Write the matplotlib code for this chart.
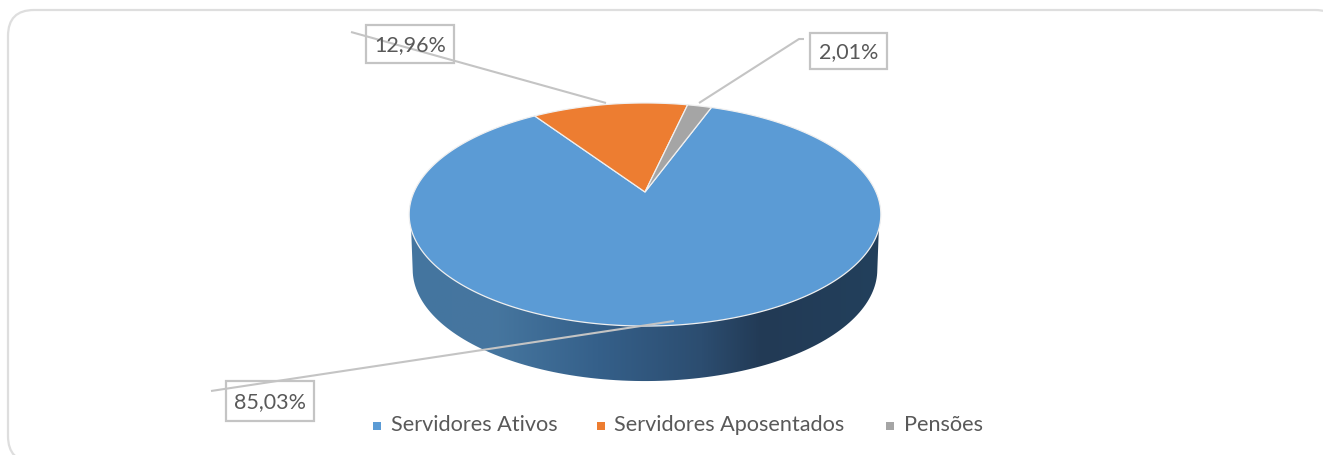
"""3D-looking pie of servidores ativos / aposentados / pensoes."""
import numpy as np
import matplotlib
matplotlib.use('Agg')
import matplotlib.pyplot as plt
from matplotlib.colors import LinearSegmentedColormap
from matplotlib.patches import FancyBboxPatch, Polygon, Rectangle

categories = ['Servidores Ativos', 'Servidores Aposentados', 'Pensões']
shares = [85.03, 12.96, 2.01]
share_labels = ['85,03%', '12,96%', '2,01%']
colors = ['#5b9bd5', '#ed7d31', '#a5a5a5']

plt.rcParams['font.family'] = ['Lato', 'DejaVu Sans']
TEXT = '#595959'
LINE = '#c4c4c4'

W, H = 1323, 455
CX, APEX_Y = 645, 192
A, B, K = 231.0, 107.0, 0.2018  # perspective of the tilted disc
START = 20.0  # first slice starts this many degrees clockwise from the top
DEPTH = 55


def project(theta):
    # theta in degrees, clockwise from the top of the disc
    t = np.radians(theta)
    u, v = np.sin(t), np.cos(t)
    d = 1 + K * v
    return CX + A * u / d, APEX_Y - B * v / d


fig = plt.figure(figsize=(W / 100, H / 100), dpi=100)
ax = fig.add_axes([0, 0, 1, 1])
ax.set_xlim(0, W)
ax.set_ylim(H, 0)
ax.axis('off')

# card outline, runs off the right and bottom of the picture
ax.add_patch(FancyBboxPatch((8, 10), 1333, 452, boxstyle='round,pad=0,rounding_size=26',
                            fc='white', ec='#dedede', lw=1.6, zorder=0))

# side wall: gradient clipped to the lower rim
grad = LinearSegmentedColormap.from_list('wall', [
    (0.00, '#44759f'), (0.18, '#46769f'), (0.40, '#35608a'),
    (0.62, '#2c4d70'), (0.75, '#223a55'), (1.00, '#23405c')])
im = ax.imshow(np.linspace(0, 1, 256)[None, :], cmap=grad, aspect='auto',
               extent=[409, 881, 385, 200], zorder=1)
ax.set_xlim(0, W)
ax.set_ylim(H, 0)
tt = np.linspace(102, 258, 120)
low_x, low_y = project(tt)
low_y = low_y + DEPTH
low_x = CX + (low_x - CX) * 0.985
wall_xy = np.column_stack([np.r_[879, low_x, 411], np.r_[225, low_y, 225]])
im.set_clip_path(Polygon(wall_xy, closed=True, transform=ax.transData))

# top face
bounds = START + np.r_[0, np.cumsum(shares)] * 3.6
for i, color in enumerate(colors):
    th = np.linspace(bounds[i], bounds[i + 1], 300)
    x, y = project(th)
    xy = np.column_stack([np.r_[CX, x], np.r_[APEX_Y, y]])
    ax.add_patch(Polygon(xy, closed=True, fc=color, ec='#f0f0f0', lw=0.9, zorder=2))

# leader lines
leaders = [([674, 211], [321, 391]), ([606, 351], [103, 32]), ([699, 799, 804], [103, 39, 39])]
for lx, ly in leaders:
    ax.plot(lx, ly, color=LINE, lw=1.5, zorder=4, solid_capstyle='butt')

# data labels
boxes = [(226, 381, 88, 40), (366, 25, 88, 38), (810, 33, 77, 36)]
for (bx, by, bw, bh), lab in zip(boxes, share_labels):
    ax.add_patch(Rectangle((bx, by), bw, bh, fc='none', ec=LINE, lw=1.6, zorder=3))
    ax.text(bx + bw / 2, by + bh / 2 + 1, lab, color=TEXT, fontsize=15.5, ha='center',
            va='center', zorder=5)

# legend
legend_x = [373, 597, 886]
legend_tx = [391, 614, 904]
for lx, tx, name, color in zip(legend_x, legend_tx, categories, colors):
    ax.add_patch(Rectangle((lx, 422), 8, 8, fc=color, ec='none', zorder=3))
    ax.text(tx, 425, name, color=TEXT, fontsize=15.6, ha='left', va='center', zorder=5)

fig.savefig('out.png', dpi=100)
